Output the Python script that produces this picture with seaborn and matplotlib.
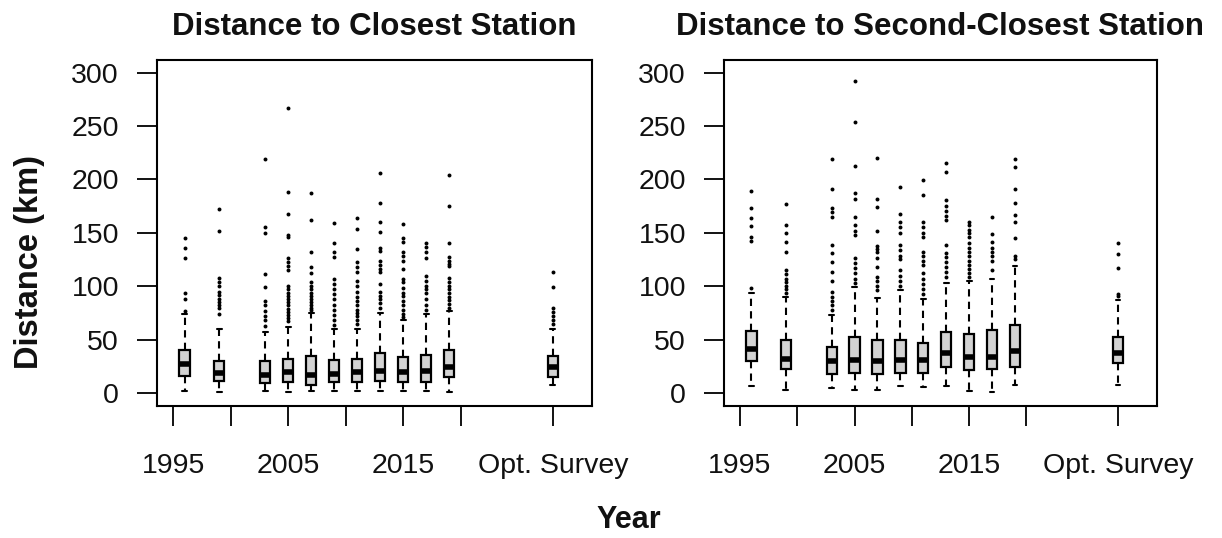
import matplotlib
matplotlib.use("Agg")
import matplotlib.pyplot as plt
import numpy as np
import pandas as pd
import seaborn as sns

# Group positions on the year axis ("Opt. Survey" sits at 2028)
positions = [1996, 1999, 2003, 2005, 2007, 2009, 2011, 2013, 2015, 2017, 2019, 2028]
tick_pos = [1995, 2000, 2005, 2010, 2015, 2020, 2028]
tick_labels = ["1995", "", "2005", "", "2015", "", "Opt. Survey"]
y_ticks = [0, 50, 100, 150, 200, 250, 300]

# Closest station: box statistics (km)
c1_whislo = [2, 1, 2, 1, 2, 2, 2, 2, 2, 2, 1, 7]
c1_q1 = [15.5, 11, 9.5, 10, 7.5, 10, 10, 11.5, 10, 10.5, 15, 15]
c1_med = [27, 19, 17, 20, 17, 18, 20, 21, 20, 21, 24, 24.5]
c1_q3 = [40.5, 30, 29.5, 32, 34.5, 31, 32, 37.5, 33.5, 35.5, 40.5, 35]
c1_whishi = [74, 60, 57, 62, 75, 60, 60, 75, 68, 74, 77, 60]
c1_out = [
    [145, 136, 126, 94, 88, 77],
    [172, 152, 108, 104, 100, 95, 92, 88, 85, 82, 80, 74],
    [219, 155, 150, 111, 99, 86, 82, 77, 72, 68, 63],
    [267, 188, 168, 148, 146, 126, 123, 119, 115, 100, 97, 94, 91, 88, 85, 82, 79, 76, 73, 70, 67],
    [187, 162, 132, 118, 112, 104, 100, 97, 94, 91, 88, 85, 82, 80, 78],
    [159, 140, 132, 127, 107, 102, 97, 93, 88, 82, 78, 73, 68, 64],
    [164, 154, 135, 123, 118, 113, 105, 100, 95, 90, 86, 82, 78, 75, 72, 68, 65],
    [206, 178, 160, 151, 136, 133, 124, 120, 116, 113, 102, 95, 91, 88, 84, 80],
    [158, 145, 141, 132, 128, 124, 116, 107, 104, 98, 94, 91, 86, 82, 78, 74, 71],
    [140, 137, 132, 126, 110, 105, 100, 97, 94, 88, 82, 78],
    [204, 175, 140, 127, 124, 121, 119, 108, 104, 100, 97, 94, 90, 87, 83, 80],
    [113, 99, 80, 76, 72, 68, 65],
]

# Second-closest station: box statistics (km)
c2_whislo = [6.5, 3, 5, 3, 3, 6.5, 6, 6.5, 2, 1, 7.5, 7.5]
c2_q1 = [30, 22, 18, 18.5, 17.5, 18.5, 19, 24, 21.5, 22, 24.5, 28]
c2_med = [41.5, 32, 30, 30.5, 30, 30.5, 30.5, 37, 34, 34, 39.5, 37]
c2_q3 = [58, 49.5, 43, 52, 49.5, 50, 47, 57, 55, 59, 63.5, 52]
c2_whishi = [94, 89.5, 73, 99, 89, 96, 88, 103, 105, 107, 119, 87]
c2_out = [
    [189, 173, 164, 156, 146, 142, 98],
    [177, 157, 150, 141, 132, 115, 111, 107, 104, 100, 97, 94],
    [219, 191, 173, 169, 165, 139, 131, 123, 113, 105, 95, 90, 86, 82, 78],
    [292, 254, 213, 187, 182, 165, 157, 152, 148, 126, 122, 117, 112, 107, 103],
    [220, 182, 174, 152, 138, 135, 132, 126, 118, 109, 105, 100, 96],
    [193, 168, 160, 155, 150, 139, 134, 128, 125, 115, 110, 105, 100],
    [199, 185, 160, 155, 150, 146, 132, 128, 124, 120, 112, 107, 102, 97, 93],
    [215, 207, 181, 175, 170, 166, 162, 139, 131, 127, 123, 118, 113, 109],
    [160, 157, 153, 150, 146, 140, 136, 132, 128, 124, 120, 116, 112, 109],
    [165, 149, 141, 136, 132, 128, 124, 115],
    [219, 212, 191, 178, 167, 160, 145, 128, 125],
    [140, 130, 117, 93, 91],
]

sns.set_theme(style="white")
plt.rcParams["font.family"] = ["Liberation Sans", "DejaVu Sans"]

W, H = 1222, 538
fig = plt.figure(figsize=(W / 100, H / 100), dpi=100)
fig.patch.set_facecolor("white")


def px_axes(x0, x1, y0, y1):
    return fig.add_axes([x0 / W, 1 - y1 / H, (x1 - x0) / W, (y1 - y0) / H])


ax1 = px_axes(157, 592, 60, 406)
ax2 = px_axes(724, 1157, 60, 406)


def draw_panel(ax, whislo, q1, med, q3, whishi, outliers, title):
    stats = [
        dict(whislo=a, q1=b, med=c, q3=d, whishi=e, fliers=[])
        for a, b, c, d, e in zip(whislo, q1, med, q3, whishi)
    ]
    ax.bxp(
        stats,
        positions=positions,
        widths=0.9,
        capwidths=0.42,
        patch_artist=True,
        showfliers=False,
        boxprops=dict(facecolor="#d3d3d3", edgecolor="black", linewidth=1.6),
        medianprops=dict(color="black", linewidth=4.0, solid_capstyle="butt"),
        whiskerprops=dict(color="black", linewidth=1.5, linestyle=(0, (3.5, 2.5))),
        capprops=dict(color="black", linewidth=1.5),
        manage_ticks=False,
    )
    df = pd.DataFrame(
        [(p, v) for p, vals in zip(positions, outliers) for v in vals],
        columns=["pos", "dist"],
    )
    sns.scatterplot(data=df, x="pos", y="dist", ax=ax, color="black",
                    s=8, linewidth=0, marker="o", legend=False, zorder=3)

    ax.set_xlim(1993.6, 2031.4)
    ax.set_ylim(-12.2, 311.8)
    ax.set_xticks(tick_pos)
    ax.set_xticklabels(tick_labels)
    ax.set_yticks(y_ticks)
    ax.set_yticklabels([str(v) for v in y_ticks])
    ax.set_xlabel("")
    ax.set_ylabel("")
    ax.tick_params(axis="both", which="major", direction="out", length=14.4,
                   width=1.3, color="black", labelsize=20.5, labelcolor="#111111",
                   bottom=True, left=True, top=False, right=False)
    ax.tick_params(axis="x", pad=19.5)
    ax.tick_params(axis="y", pad=13)
    for s in ax.spines.values():
        s.set_visible(True)
        s.set_color("black")
        s.set_linewidth(1.5)
    ax.set_title(title, fontsize=22.5, fontweight="bold", pad=18, color="#111111")


draw_panel(ax1, c1_whislo, c1_q1, c1_med, c1_q3, c1_whishi, c1_out,
           "Distance to Closest Station")
draw_panel(ax2, c2_whislo, c2_q1, c2_med, c2_q3, c2_whishi, c2_out,
           "Distance to Second-Closest Station")

fig.text(30 / W, 1 - 262 / H, "Distance (km)", rotation=90, ha="center",
         va="center", fontsize=23.5, fontweight="bold", color="#111111")
fig.text(629 / W, 1 - 520 / H, "Year", ha="center", va="center",
         fontsize=22, fontweight="bold", color="#111111")

fig.savefig("out.png", dpi=100, facecolor="white")
